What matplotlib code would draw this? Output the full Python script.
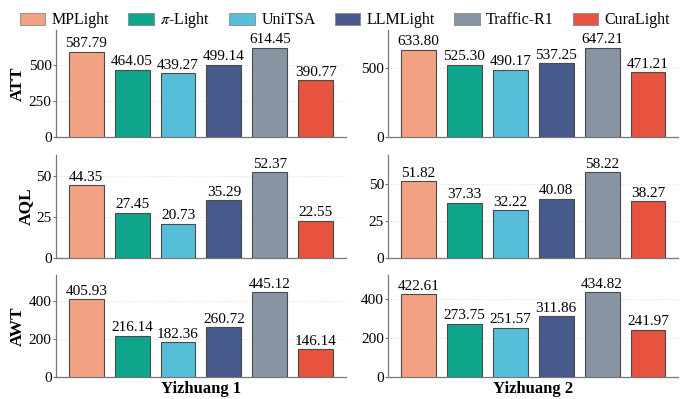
import numpy as np
import matplotlib.pyplot as plt
from matplotlib.ticker import MaxNLocator
from matplotlib.patches import Patch

plt.rcParams['font.family'] = ['Liberation Serif', 'DejaVu Serif']
plt.rcParams['mathtext.fontset'] = 'stix'

# data
methods = ['MPLight', r'$\pi$-Light', 'UniTSA', 'LLMLight', 'Traffic-R1', 'CuraLight']
colors = ['#F4A284', '#0EA58C', '#56BED8', '#465B8B', '#8794A2', '#E6533F']
metrics = ['ATT', 'AQL', 'AWT']
scenes = ['Yizhuang 1', 'Yizhuang 2']

att_1 = [587.79, 464.05, 439.27, 499.14, 614.45, 390.77]
aql_1 = [44.35, 27.45, 20.73, 35.29, 52.37, 22.55]
awt_1 = [405.93, 216.14, 182.36, 260.72, 445.12, 146.14]
att_2 = [633.80, 525.30, 490.17, 537.25, 647.21, 471.21]
aql_2 = [51.82, 37.33, 32.22, 40.08, 58.22, 38.27]
awt_2 = [422.61, 273.75, 251.57, 311.86, 434.82, 241.97]

values = [[att_1, att_2], [aql_1, aql_2], [awt_1, awt_2]]

fig, axes = plt.subplots(3, 2, figsize=(6.9, 3.99), dpi=100,
                         gridspec_kw={'height_ratios': [107.5, 102.5, 102]})
fig.subplots_adjust(left=0.081, right=0.983, top=0.925, bottom=0.055,
                    wspace=0.145, hspace=0.168)

x = np.arange(len(methods))
for r in range(3):
    for c in range(2):
        ax = axes[r, c]
        vals = values[r][c]
        ax.bar(x, vals, width=0.76, color=colors, edgecolor='#4a4a4a',
               linewidth=0.8, zorder=3)
        for xi, v in zip(x, vals):
            ax.annotate(f'{v:.2f}', (xi, v), xytext=(0, 1.0),
                        textcoords='offset points', ha='center', va='bottom',
                        fontsize=11, zorder=4)
        ax.set_xlim(-0.66, 5.66)
        ax.set_ylim(0, max(vals) * 1.2)
        ax.yaxis.set_major_locator(MaxNLocator(nbins=3, steps=[1, 2, 2.5, 5, 10]))
        ax.grid(axis='y', linestyle=':', color='#dddddd', linewidth=0.7, zorder=0)
        for s in ['top', 'right']:
            ax.spines[s].set_visible(False)
        for s in ['left', 'bottom']:
            ax.spines[s].set_color('#777777')
            ax.spines[s].set_linewidth(0.9)
        ax.set_xticks([])
        ax.tick_params(axis='y', labelsize=11, length=2, color='#777777', pad=1)
        if c == 0:
            ax.set_ylabel(metrics[r], fontsize=12.5, fontweight='bold', labelpad=2)
        if r == 2:
            ax.set_xlabel(scenes[c], fontsize=12, fontweight='bold', labelpad=3)

handles = [Patch(facecolor=col, edgecolor='#888888', linewidth=0.6) for col in colors]
fig.legend(handles, methods, loc='upper center', bbox_to_anchor=(0.5, 1.01),
           ncol=6, frameon=False, fontsize=11.5, handlelength=1.6,
           handleheight=0.75, columnspacing=1.2, handletextpad=0.4)

plt.savefig('out.png', dpi=100)
